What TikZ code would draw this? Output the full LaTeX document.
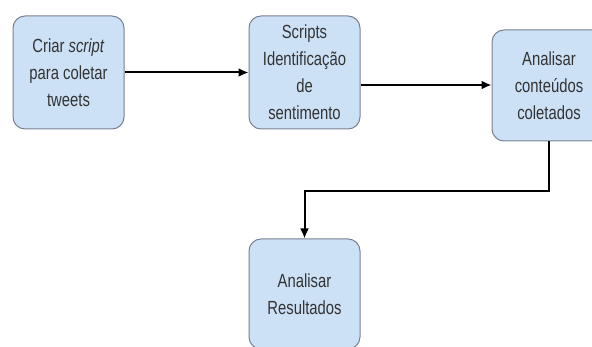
\documentclass[tikz,border=0pt]{standalone}
\usepackage{fontspec}
\setmainfont{Liberation Sans}
\newfontfamily\boxfont[FakeStretch=0.78]{Liberation Sans}
\usetikzlibrary{positioning,arrows.meta}
\definecolor{boxfill}{RGB}{204,224,246}
\definecolor{boxline}{RGB}{120,130,145}
\tikzset{
  step box/.style={
    fill=boxfill,
    draw=boxline,
    line width=1pt,
    rounded corners=12pt,
    minimum width=111pt,
    minimum height=113pt,
    align=center,
    text=black!80,
    font=\boxfont\fontsize{19pt}{27pt}\selectfont,
  },
  flow/.style={
    line width=2pt,
    -{Latex[length=10pt,width=9pt]},
  }
}
\begin{document}
\begin{tikzpicture}[x=1pt,y=1pt]
        \useasboundingbox (0,0) rectangle (592,-347);
        \node [step box] (s1) at (68.5,-72.5) {Criar \textit{script}\\para coletar\\tweets};
        \node [step box, right=124pt of s1] (s2) {Scripts\\Identificação\\de\\sentimento};
        \node [step box, right=131pt of s2, yshift=-13pt, minimum width=114pt, minimum height=111pt] (s3) {Analisar\\conteúdos\\coletados};
        \node [step box, below=109pt of s2, minimum height=110pt] (s4) {Analisar\\Resultados};

        \draw [flow] (s1) -- (s2);
        \draw [flow] (s2.east |- 0,-85) -- (s3.west |- 0,-85);
        \draw [flow] (s3.south) -- ++(0,-50) -| (s4.north);
      \end{tikzpicture}
\end{document}
